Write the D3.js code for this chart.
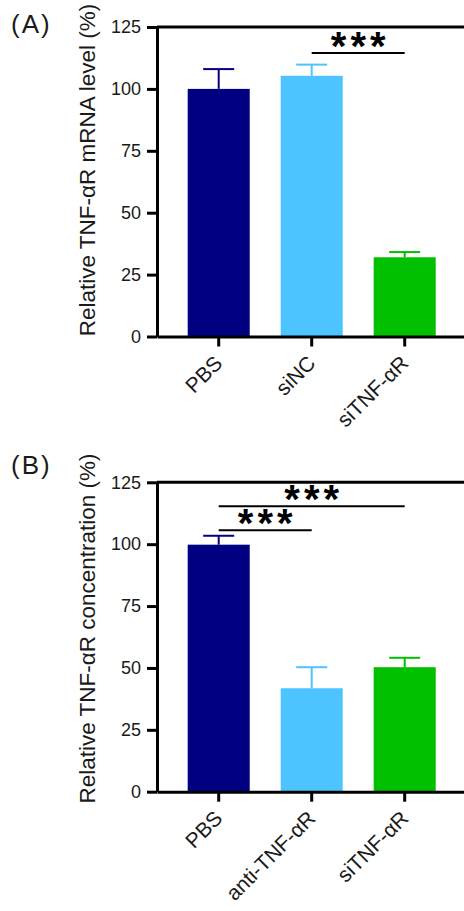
<!DOCTYPE html>
<html><head><meta charset="utf-8">
<script src="https://cdn.jsdelivr.net/npm/d3@7/dist/d3.min.js"></script>
<style>body{margin:0;background:#fff}svg{display:block}</style>
</head><body><svg id="c" width="464" height="911"></svg>
<script>
// Panel A data
const catsA = ["PBS", "siNC", "siTNF-αR"];
const meanA = [100, 105.3, 32.0];
const errA = [8.0, 4.5, 2.1];
const sigA = [{from: "siNC", to: "siTNF-αR", y: 114.5, label: "***"}];
// Panel B data
const catsB = ["PBS", "anti-TNF-αR", "siTNF-αR"];
const meanB = [99.8, 41.8, 50.3];
const errB = [3.6, 8.5, 3.8];
const sigB = [
  {from: "PBS", to: "anti-TNF-αR", y: 105.6, label: "***"},
  {from: "PBS", to: "siTNF-αR", y: 115.3, label: "***"}
];
const yTicks = [0, 25, 50, 75, 100, 125];
const colors = ["#000080", "#4DC4FF", "#00C000"];
const FONT = "Liberation Sans";

const svg = d3.select("#c");

function panel(opt) {
  const {cats, mean, err, sig, title, label, top, bottom, labelY} = opt;
  const left = 157, right = 466.4;
  const g = svg.append("g");
  const x = d3.scaleBand().domain(cats).range([left, right]).paddingInner(0.333).paddingOuter(0.33);
  const y = d3.scaleLinear().domain([0, 125]).range([bottom, top]);

  g.selectAll("rect.bar").data(cats).join("rect")
    .attr("x", d => x(d)).attr("width", x.bandwidth())
    .attr("y", (d, i) => y(mean[i])).attr("height", (d, i) => y(0) - y(mean[i]))
    .attr("fill", (d, i) => colors[i]);
  const cap = x.bandwidth() / 2;
  cats.forEach((d, i) => {
    const cx = x(d) + x.bandwidth() / 2;
    g.append("line").attr("x1", cx).attr("x2", cx)
      .attr("y1", y(mean[i])).attr("y2", y(mean[i] + err[i]))
      .attr("stroke", colors[i]).attr("stroke-width", 2);
    g.append("line").attr("x1", cx - cap / 2).attr("x2", cx + cap / 2)
      .attr("y1", y(mean[i] + err[i])).attr("y2", y(mean[i] + err[i]))
      .attr("stroke", colors[i]).attr("stroke-width", 2);
  });

  g.append("line").attr("x1", left).attr("x2", right)
    .attr("y1", y(125)).attr("y2", y(125)).attr("stroke", "#000").attr("stroke-width", 3);

  const ya = g.append("g").attr("transform", `translate(${left},0)`)
    .call(d3.axisLeft(y).tickValues(yTicks).tickSize(10).tickPadding(6).tickSizeOuter(0));
  ya.select(".domain").attr("stroke-width", 3).attr("stroke", "#000");
  ya.selectAll(".tick line").attr("stroke-width", 3).attr("stroke", "#000");
  ya.selectAll(".tick text").attr("font-size", 18).attr("font-family", FONT).attr("fill", "#1a1a1a");

  const xa = g.append("g").attr("transform", `translate(0,${bottom})`)
    .call(d3.axisBottom(x).tickSize(10).tickSizeOuter(0).tickFormat(() => ""));
  xa.select(".domain").attr("stroke-width", 3).attr("stroke", "#000");
  xa.selectAll(".tick line").attr("stroke-width", 3).attr("stroke", "#000");
  g.selectAll("text.xl").data(cats).join("text").attr("class", "xl")
    .attr("transform", d => `translate(${x(d) + x.bandwidth() / 2 + 5},${bottom + 28}) rotate(-45)`)
    .attr("text-anchor", "end").attr("font-size", 21).attr("font-family", FONT)
    .attr("fill", "#1a1a1a").text(d => d);

  g.append("text").attr("transform", `translate(95,${opt.titleY}) rotate(-90)`)
    .attr("text-anchor", "middle").attr("font-size", 22.5).attr("font-family", FONT)
    .attr("fill", "#1a1a1a").text(title);

  g.append("text").attr("x", 11).attr("y", labelY).attr("font-size", 26).attr("font-family", FONT)
    .attr("letter-spacing", 2).attr("fill", "#1a1a1a").text(label);

  sig.forEach(s => {
    const x1 = x(s.from) + x.bandwidth() / 2, x2 = x(s.to) + x.bandwidth() / 2;
    g.append("line").attr("x1", x1).attr("x2", x2).attr("y1", y(s.y)).attr("y2", y(s.y))
      .attr("stroke", "#000").attr("stroke-width", 2);
    g.append("text").attr("x", (x1 + x2) / 2 + 2).attr("y", y(s.y) + 7)
      .attr("text-anchor", "middle").attr("font-size", 40).attr("font-weight", "bold")
      .attr("font-family", FONT).attr("letter-spacing", 4).text(s.label);
  });
}

panel({cats: catsA, mean: meanA, err: errA, sig: sigA, title: "Relative TNF-αR mRNA level (%)",
  label: "(A)", top: 27, bottom: 336.5, labelY: 33, titleY: 170});
panel({cats: catsB, mean: meanB, err: errB, sig: sigB, title: "Relative TNF-αR concentration (%)",
  label: "(B)", top: 482.3, bottom: 791.7, labelY: 474, titleY: 628.5});
</script></body></html>
